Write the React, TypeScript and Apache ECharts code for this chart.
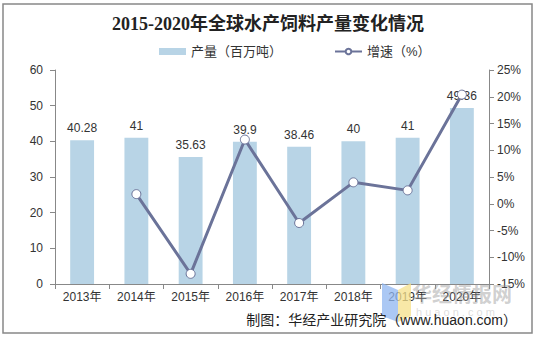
import React, { useEffect, useRef } from "react";
import * as echarts from "echarts";

const categories = ["2013年", "2014年", "2015年", "2016年", "2017年", "2018年", "2019年", "2020年"];
const production = [40.28, 41, 35.63, 39.9, 38.46, 40, 41, 49.36];
const growth: (number | null)[] = [null, 1.8, -13.1, 12.0, -3.6, 4.0, 2.5, 20.4];

const BAR_COLOR = "#b8d4e6";
const LINE_COLOR = "#6b7399";
const FONT = "'Liberation Sans', Arial, 'Noto Sans CJK SC', sans-serif";

export default function App() {
  const ref = useRef<HTMLDivElement>(null);
  useEffect(() => {
    document.body.style.margin = "0";
    const chart = echarts.init(ref.current!, null, { renderer: "svg" });
    chart.setOption({
      animation: false,
      backgroundColor: "#fff",
      textStyle: { fontFamily: FONT },
      title: {
        text: "2015-2020年全球水产饲料产量变化情况",
        left: "center",
        top: 10,
        textStyle: {
          fontFamily: "'Liberation Serif', 'Noto Sans CJK SC', serif",
          fontWeight: "bold",
          fontSize: 18,
          color: "#222",
        },
      },
      legend: {
        top: 40,
        left: 154,
        itemGap: 52,
        itemWidth: 27,
        itemHeight: 7,
        textStyle: { fontSize: 13, color: "#333", fontFamily: FONT },
        data: [
          { name: "产量（百万吨）", icon: "rect" },
          { name: "增速（%）" },
        ],
      },
      grid: { left: 55, right: 47, top: 70, bottom: 54 },
      xAxis: {
        type: "category",
        data: categories,
        axisLine: { lineStyle: { color: "#888" } },
        axisTick: { show: true, alignWithLabel: false, lineStyle: { color: "#888" } },
        axisLabel: { color: "#333", fontSize: 12, margin: 7 },
      },
      yAxis: [
        {
          type: "value",
          min: 0,
          max: 60,
          interval: 10,
          splitLine: { show: false },
          axisLine: { show: true, lineStyle: { color: "#888" } },
          axisTick: { show: true, lineStyle: { color: "#888" } },
          axisLabel: { color: "#333", fontSize: 12, margin: 12 },
        },
        {
          type: "value",
          min: -15,
          max: 25,
          interval: 5,
          splitLine: { show: false },
          axisLine: { show: true, lineStyle: { color: "#888" } },
          axisTick: { show: true, lineStyle: { color: "#888" } },
          axisLabel: { color: "#333", fontSize: 12, formatter: "{value}%", margin: 8 },
        },
      ],
      series: [
        {
          name: "产量（百万吨）",
          type: "bar",
          data: production,
          barWidth: "44%",
          itemStyle: { color: BAR_COLOR },
          label: { show: true, position: "top", color: "#333", fontSize: 12, distance: 6 },
        },
        {
          name: "增速（%）",
          type: "line",
          yAxisIndex: 1,
          data: growth,
          symbol: "circle",
          symbolSize: 9,
          lineStyle: { color: LINE_COLOR, width: 3 },
          itemStyle: { color: "#fff", borderColor: LINE_COLOR, borderWidth: 1 },
          z: 3,
        },
      ],
      graphic: [
        {
          type: "rect",
          shape: { x: 3, y: 4, width: 529, height: 329 },
          style: { fill: "none", stroke: "#888", lineWidth: 1.5 },
          silent: true,
          z: 100,
        },
        {
          type: "polygon",
          shape: { points: [[382, 283], [398, 290], [398, 322], [382, 316]] },
          style: { fill: "#8fb6f0", opacity: 0.75 },
          z: 50,
        },
        {
          type: "polygon",
          shape: { points: [[398, 290], [411, 283], [411, 316], [398, 322]] },
          style: { fill: "#f5e08a", opacity: 0.75 },
          z: 50,
        },
        {
          type: "text",
          x: 412,
          y: 283,
          style: {
            text: "华经情报网",
            font: "bold 20px 'Noto Sans CJK SC', sans-serif",
            fill: "rgba(150,150,150,0.45)",
          },
          z: 50,
        },
        {
          type: "text",
          x: 416,
          y: 306,
          style: {
            text: "h u a o n . c o m",
            font: "11px " + FONT,
            fill: "rgba(180,180,180,0.45)",
          },
          z: 50,
        },
        {
          type: "text",
          right: 19,
          top: 313,
          style: {
            text: "制图：华经产业研究院（www.huaon.com）",
            font: "14px " + FONT,
            fill: "#222",
          },
          z: 60,
        },
      ],
    });
    return () => chart.dispose();
  }, []);
  return <div ref={ref} style={{ width: 536, height: 338 }} />;
}
